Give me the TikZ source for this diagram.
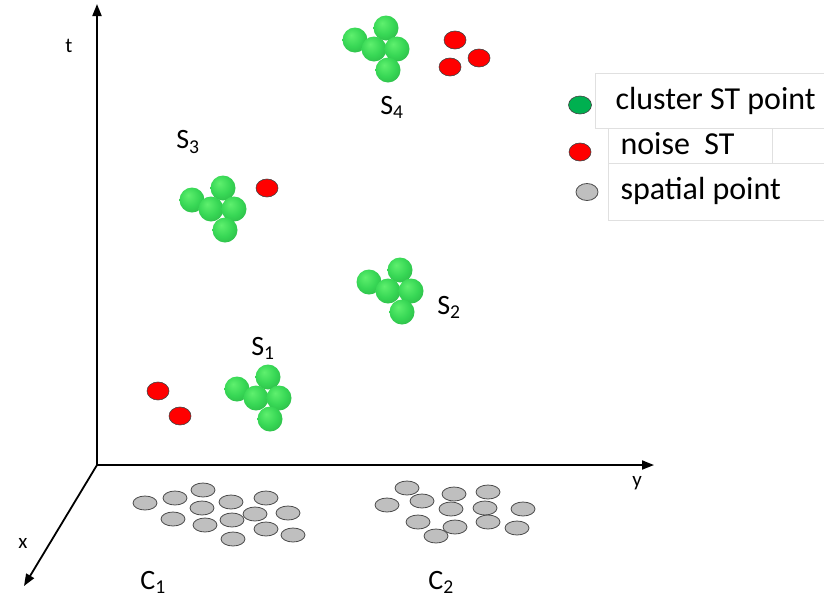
\documentclass[tikz,border=0pt]{standalone}
\usepackage{fontspec}
\setmainfont{Carlito}
\usetikzlibrary{arrows.meta,shapes.geometric}
\definecolor{gball1}{RGB}{95,240,110}
\definecolor{gball2}{RGB}{55,215,85}
\definecolor{gball3}{RGB}{35,160,60}
\pgfdeclareradialshading{greenball}{\pgfpoint{-8bp}{10bp}}{color(0bp)=(gball1); color(20bp)=(gball2); color(48bp)=(gball3); color(60bp)=(gball3)}

\begin{document}
\begin{tikzpicture}[
  x=1pt, y=-1pt,
  axis/.style={line width=1.8pt,-{Triangle[length=12pt,width=9pt]}},
  ball/.style={circle,minimum size=25pt,inner sep=0pt,shading=greenball},
  noise/.style={ellipse,draw=black!75,line width=0.6pt,fill=red,minimum width=22pt,minimum height=18pt,inner sep=0pt},
  spat/.style={ellipse,draw=black!70,line width=0.8pt,fill=black!25,minimum width=24pt,minimum height=14pt,inner sep=0pt},
  lbl/.style={font=\fontsize{28}{30}\selectfont},
  axlbl/.style={font=\fontsize{21}{23}\selectfont},
  leg/.style={font=\fontsize{32}{34}\selectfont,anchor=west},
  cell/.style={draw=black!12,line width=0.8pt}
]
\useasboundingbox (0,0) rectangle (824,614);

% axes
\coordinate (o) at (97,465);
\coordinate (tend) at (97,4);
\coordinate (yend) at (654,465);
\coordinate (xend) at (24,586);
\draw[axis] (o)--(tend);
\draw[axis] (o)--(yend);
\draw[axis] (o)--(xend);
\node[axlbl] (tlab) at (69,46) {t};
\node[axlbl] (ylab) at (637,483) {y};
\node[axlbl] (xlab) at (23,543) {x};

% clusters
\foreach \nm/\a/\b in {s4/386/28, s3/223/188, s2/400/270, s1/268/377} {
  \node[ball] (\nm-l) at (\a-31,\b+12) {};
  \node[ball] (\nm-t) at (\a,\b) {};
  \node[ball] (\nm-ml) at (\a-12,\b+21) {};
  \node[ball] (\nm-mr) at (\a+11,\b+21) {};
  \node[ball] (\nm-b) at (\a+2,\b+42) {};
}

% noise points
\node[noise] (n1) at (455,40) {};
\node[noise] (n2) at (479,58) {};
\node[noise] (n3) at (450,67) {};
\node[noise] (n4) at (267,188) {};
\node[noise] (n5) at (158,391) {};
\node[noise] (n6) at (180,416) {};

\node[lbl] (s4lab) at (392,107) {S\textsubscript{4}};
\node[lbl] (s3lab) at (188,142) {S\textsubscript{3}};
\node[lbl] (s2lab) at (449,307) {S\textsubscript{2}};
\node[lbl] (s1lab) at (263,348) {S\textsubscript{1}};

% spatial points
\foreach \i/\p/\q in {1/145/503, 2/175/498, 3/203/490, 4/202/508, 5/173/519, 6/205/525, 7/231/502,
  8/232/520, 9/266/498, 10/255/514, 11/288/513, 12/266/529, 13/293/535, 14/233/539}
  \node[spat] (c1-\i) at (\p,\q) {};
\foreach \i/\p/\q in {1/407/488, 2/387/505, 3/422/501, 4/454/494, 5/488/492, 6/451/509, 7/485/508,
  8/523/509, 9/418/522, 10/455/527, 11/488/522, 12/517/528, 13/436/536}
  \node[spat] (c2-\i) at (\p,\q) {};
\node[lbl] (c1lab) at (153,582) {C\textsubscript{1}};
\node[lbl] (c2lab) at (441,582) {C\textsubscript{2}};

% legend
\draw[cell] (824,73) -- (595,73) -- (595,128) -- (824,128);
\draw[cell] (608,128) -- (608,220) -- (824,220);
\draw[cell] (772,128) -- (772,163);
\draw[cell] (608,163) -- (824,163);
\node[ellipse,draw=black!75,line width=0.6pt,fill={rgb,255:red,0;green,176;blue,80},minimum width=23pt,minimum height=18pt,inner sep=0pt] (kclu) at (580,105) {};
\node[noise] (knoi) at (580,152) {};
\node[spat,minimum width=22pt,minimum height=17pt] (kspa) at (587,192) {};
\node[leg] (tclu) at (612,101) {cluster ST point};
\node[leg] (tnoi) at (617,144) {noise\ \ ST};
\node[leg] (tspa) at (617,191) {spatial point};
\end{tikzpicture}
\end{document}
